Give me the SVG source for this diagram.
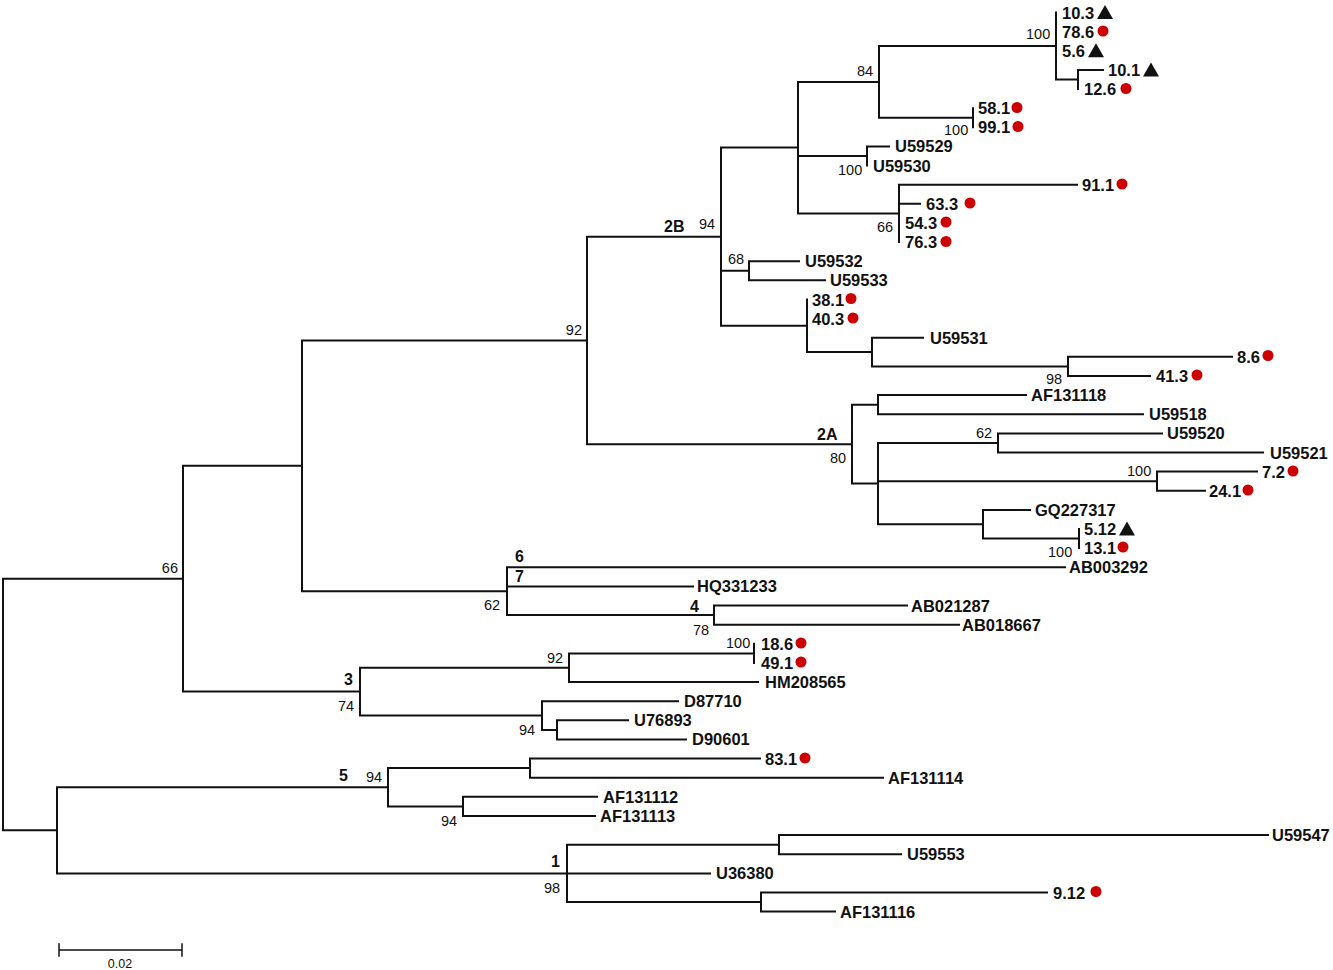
<svg xmlns="http://www.w3.org/2000/svg" width="1333" height="970" viewBox="0 0 1333 970">
<style>
.e{fill:none;stroke:#111;stroke-width:2;stroke-linecap:square}
.lf{font-family:"Liberation Sans",Arial,sans-serif;font-weight:bold;font-size:16.5px;fill:#111}
.bs{font-family:"Liberation Sans",Arial,sans-serif;font-size:14.5px;fill:#111}
.cl{font-family:"Liberation Sans",Arial,sans-serif;font-weight:bold;font-size:16px;fill:#111}
.dot{fill:#cc0000}
.tri{fill:#111}
</style>
<defs>
<circle id="dot" r="5.5" class="dot"/>
<path id="tri" d="M0,-7.5 L8,6.5 L-8,6.5 Z" class="tri"/>
</defs>
<rect width="1333" height="970" fill="#fff"/>
<g id="connectors">
<path class="e" d="M183,578.7 H3 V830.3 H57"/>
<path class="e" d="M302,465.8 H183 V691.6 H360"/>
<path class="e" d="M587,340.4 H302 V591.2 H507"/>
<path class="e" d="M721,236.7 H587 V444.2 H852"/>
<path class="e" d="M798,147.6 H721 V325.8 H807 M721,270.8 H749"/>
<path class="e" d="M879,81.9 H798 V213.4 H899 M798,156 H867"/>
<path class="e" d="M1056,46 H879 V117.8 H973"/>
<path class="e" d="M1056,12.5 V79.5 H1078"/>
<path class="e" d="M1103,69.9 H1078 V89"/>
<path class="e" d="M973,108.2 V127.3"/>
<path class="e" d="M889,146.4 H867 V165.5"/>
<path class="e" d="M1077,184.7 H899 V242.1 M899,203.8 H920"/>
<path class="e" d="M799,261.2 H749 V280.3 H825"/>
<path class="e" d="M807,299.5 V352.1 H872"/>
<path class="e" d="M923,337.7 H872 V366.4 H1068"/>
<path class="e" d="M1232,356.8 H1068 V376 H1150"/>
<path class="e" d="M878,404.7 H852 V483.6 H878"/>
<path class="e" d="M1026,395.1 H878 V414.2 H1143"/>
<path class="e" d="M998,443 H878 V524.3 H983 M878,481.2 H1157"/>
<path class="e" d="M1162,433.4 H998 V452.5 H1263"/>
<path class="e" d="M1257,471.6 H1157 V490.8 H1205"/>
<path class="e" d="M1030,509.9 H983 V538.6 H1079"/>
<path class="e" d="M1079,529 V548.1"/>
<path class="e" d="M1065,567.3 H507 V615.1 H714 M507,586.4 H693"/>
<path class="e" d="M907,605.5 H714 V624.7 H959"/>
<path class="e" d="M569,667.7 H360 V715.5 H542"/>
<path class="e" d="M754,653.4 H569 V682.1 H758"/>
<path class="e" d="M754,643.8 V662.9"/>
<path class="e" d="M678,701.2 H542 V729.9 H557"/>
<path class="e" d="M628,720.3 H557 V739.4 H686"/>
<path class="e" d="M388,787.3 H57 V873.4 H567"/>
<path class="e" d="M530,768.1 H388 V806.4 H463"/>
<path class="e" d="M760,758.6 H530 V777.7 H883"/>
<path class="e" d="M597,796.8 H463 V816 H595"/>
<path class="e" d="M779,844.7 H567 V902 H761 M567,873.4 H710"/>
<path class="e" d="M1268,835.1 H779 V854.2 H901"/>
<path class="e" d="M1047,892.5 H761 V911.6 H835"/>
</g>
<g id="leaves">
<g id="leaf-10.3"><text class="lf" x="1062" y="18.5">10.3</text><use href="#tri" x="1105" y="12.5"/></g>
<g id="leaf-78.6"><text class="lf" x="1062" y="37.6">78.6</text><use href="#dot" x="1103" y="31"/></g>
<g id="leaf-5.6"><text class="lf" x="1062" y="56.8">5.6</text><use href="#tri" x="1096" y="50.8"/></g>
<g id="leaf-10.1"><text class="lf" x="1108" y="75.9">10.1</text><use href="#tri" x="1151" y="69.9"/></g>
<g id="leaf-12.6"><text class="lf" x="1084" y="95">12.6</text><use href="#dot" x="1126" y="88.5"/></g>
<g id="leaf-58.1"><text class="lf" x="978" y="114.2">58.1</text><use href="#dot" x="1017" y="107.5"/></g>
<g id="leaf-99.1"><text class="lf" x="978" y="133.3">99.1</text><use href="#dot" x="1018" y="126.5"/></g>
<g id="leaf-U59529"><text class="lf" x="895" y="152.4">U59529</text></g>
<g id="leaf-U59530"><text class="lf" x="873" y="171.5">U59530</text></g>
<g id="leaf-91.1"><text class="lf" x="1082" y="190.7">91.1</text><use href="#dot" x="1122" y="184"/></g>
<g id="leaf-63.3"><text class="lf" x="926" y="209.8">63.3</text><use href="#dot" x="970" y="203"/></g>
<g id="leaf-54.3"><text class="lf" x="905" y="228.9">54.3</text><use href="#dot" x="946" y="222"/></g>
<g id="leaf-76.3"><text class="lf" x="905" y="248.1">76.3</text><use href="#dot" x="946" y="241.5"/></g>
<g id="leaf-U59532"><text class="lf" x="805" y="267.2">U59532</text></g>
<g id="leaf-U59533"><text class="lf" x="830" y="286.3">U59533</text></g>
<g id="leaf-38.1"><text class="lf" x="812" y="305.5">38.1</text><use href="#dot" x="851" y="298.5"/></g>
<g id="leaf-40.3"><text class="lf" x="812" y="324.6">40.3</text><use href="#dot" x="853" y="318"/></g>
<g id="leaf-U59531"><text class="lf" x="930" y="343.7">U59531</text></g>
<g id="leaf-8.6"><text class="lf" x="1237" y="362.8">8.6</text><use href="#dot" x="1268" y="355.5"/></g>
<g id="leaf-41.3"><text class="lf" x="1156" y="382">41.3</text><use href="#dot" x="1197" y="375"/></g>
<g id="leaf-AF131118"><text class="lf" x="1031" y="401.1">AF131118</text></g>
<g id="leaf-U59518"><text class="lf" x="1149" y="420.2">U59518</text></g>
<g id="leaf-U59520"><text class="lf" x="1167" y="439.4">U59520</text></g>
<g id="leaf-U59521"><text class="lf" x="1270" y="458.5">U59521</text></g>
<g id="leaf-7.2"><text class="lf" x="1262" y="477.6">7.2</text><use href="#dot" x="1293" y="471"/></g>
<g id="leaf-24.1"><text class="lf" x="1209" y="496.8">24.1</text><use href="#dot" x="1248" y="490"/></g>
<g id="leaf-GQ227317"><text class="lf" x="1035" y="515.9">GQ227317</text></g>
<g id="leaf-5.12"><text class="lf" x="1084" y="535">5.12</text><use href="#tri" x="1127" y="529"/></g>
<g id="leaf-13.1"><text class="lf" x="1084" y="554.1">13.1</text><use href="#dot" x="1123" y="547"/></g>
<g id="leaf-AB003292"><text class="lf" x="1069" y="573.3">AB003292</text></g>
<g id="leaf-HQ331233"><text class="lf" x="697" y="592.4">HQ331233</text></g>
<g id="leaf-AB021287"><text class="lf" x="911" y="611.5">AB021287</text></g>
<g id="leaf-AB018667"><text class="lf" x="962" y="630.7">AB018667</text></g>
<g id="leaf-18.6"><text class="lf" x="761" y="649.8">18.6</text><use href="#dot" x="801" y="643"/></g>
<g id="leaf-49.1"><text class="lf" x="761" y="668.9">49.1</text><use href="#dot" x="801" y="662"/></g>
<g id="leaf-HM208565"><text class="lf" x="765" y="688.1">HM208565</text></g>
<g id="leaf-D87710"><text class="lf" x="684" y="707.2">D87710</text></g>
<g id="leaf-U76893"><text class="lf" x="634" y="726.3">U76893</text></g>
<g id="leaf-D90601"><text class="lf" x="692" y="745.4">D90601</text></g>
<g id="leaf-83.1"><text class="lf" x="765" y="764.6">83.1</text><use href="#dot" x="805" y="758"/></g>
<g id="leaf-AF131114"><text class="lf" x="888" y="783.7">AF131114</text></g>
<g id="leaf-AF131112"><text class="lf" x="603" y="802.8">AF131112</text></g>
<g id="leaf-AF131113"><text class="lf" x="600" y="822">AF131113</text></g>
<g id="leaf-U59547"><text class="lf" x="1272" y="841.1">U59547</text></g>
<g id="leaf-U59553"><text class="lf" x="907" y="860.2">U59553</text></g>
<g id="leaf-U36380"><text class="lf" x="716" y="879.4">U36380</text></g>
<g id="leaf-9.12"><text class="lf" x="1053" y="898.5">9.12</text><use href="#dot" x="1096" y="891.5"/></g>
<g id="leaf-AF131116"><text class="lf" x="840" y="917.6">AF131116</text></g>
</g>
<g id="node-labels">
<g id="n-root-66"><text class="bs" x="178" y="573" text-anchor="end">66</text></g>
<g id="n-92"><text class="bs" x="582" y="335" text-anchor="end">92</text></g>
<g id="n-2B"><text class="cl" x="664" y="232">2B</text><text class="bs" x="699" y="229">94</text></g>
<g id="n-84"><text class="bs" x="857" y="76">84</text></g>
<g id="n-100a"><text class="bs" x="1026" y="39">100</text></g>
<g id="n-100b"><text class="bs" x="944" y="135">100</text></g>
<g id="n-100c"><text class="bs" x="838" y="175">100</text></g>
<g id="n-66b"><text class="bs" x="877" y="232">66</text></g>
<g id="n-68"><text class="bs" x="728" y="264">68</text></g>
<g id="n-98a"><text class="bs" x="1046" y="384">98</text></g>
<g id="n-2A"><text class="cl" x="817" y="440">2A</text><text class="bs" x="830" y="463">80</text></g>
<g id="n-62a"><text class="bs" x="976" y="438">62</text></g>
<g id="n-100d"><text class="bs" x="1127" y="476">100</text></g>
<g id="n-100e"><text class="bs" x="1048" y="557">100</text></g>
<g id="n-6"><text class="cl" x="515" y="562">6</text></g>
<g id="n-7"><text class="cl" x="515" y="582">7</text></g>
<g id="n-62b"><text class="bs" x="484" y="610">62</text></g>
<g id="n-4"><text class="cl" x="690" y="612">4</text><text class="bs" x="693" y="635">78</text></g>
<g id="n-100f"><text class="bs" x="726" y="648">100</text></g>
<g id="n-92b"><text class="bs" x="547" y="663">92</text></g>
<g id="n-3"><text class="cl" x="344" y="685">3</text><text class="bs" x="338" y="711">74</text></g>
<g id="n-94a"><text class="bs" x="519" y="735">94</text></g>
<g id="n-5"><text class="cl" x="339" y="781">5</text><text class="bs" x="366" y="782">94</text></g>
<g id="n-94b"><text class="bs" x="441" y="826">94</text></g>
<g id="n-1"><text class="cl" x="551" y="867">1</text><text class="bs" x="544" y="893">98</text></g>
</g>
<g id="scale-bar">
<path class="e" d="M59,950 H182 M59,944 V956 M182,944 V956" style="stroke-width:1.5"/>
<text class="bs" x="120" y="968" text-anchor="middle" style="font-size:12.5px">0.02</text>
</g>
</svg>
